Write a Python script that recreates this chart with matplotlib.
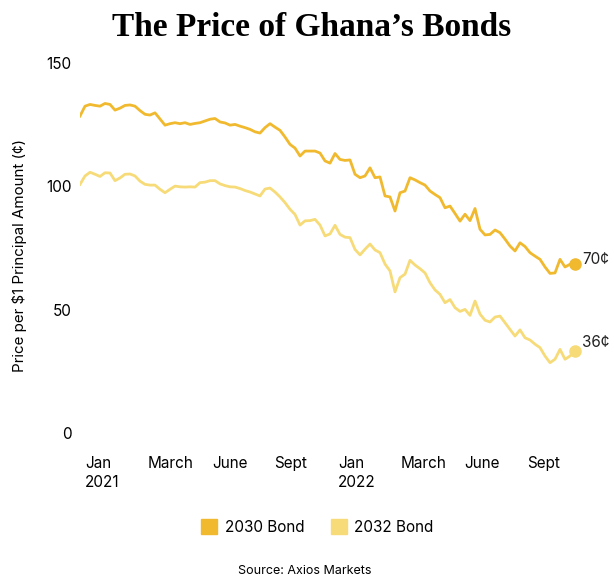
import matplotlib
matplotlib.use("Agg")
import matplotlib.pyplot as plt
from matplotlib.patches import Patch

plt.rcParams['font.family'] = ['Inter', 'DejaVu Sans']

# roughly weekly prices, Dec 2020 - Oct 2022 (cents per $1 principal)
bond_2030 = [128.5, 132.5, 133.2, 132.8, 132.5, 133.6, 133.2, 130.9, 131.7, 132.8,
             133.0, 132.5, 130.7, 129.2, 128.9, 129.8, 127.3, 124.8, 125.4, 125.8,
             125.4, 125.8, 125.1, 125.5, 125.8, 126.5, 127.2, 127.5, 126.1, 125.7,
             124.8, 125.1, 124.4, 123.8, 123.1, 122.1, 121.6, 123.8, 125.4, 124.0,
             122.7, 120.0, 117.0, 115.5, 112.3, 114.3, 114.3, 114.3, 113.5, 110.3,
             109.4, 113.3, 110.9, 110.5, 110.7, 104.9, 103.5, 104.2, 107.5, 103.5,
             103.8, 96.1, 95.7, 90.0, 97.4, 98.1, 103.5, 102.6, 101.5, 100.5,
             98.1, 96.7, 95.4, 91.3, 92.0, 89.0, 85.9, 88.7, 86.1, 91.0,
             82.6, 80.3, 80.5, 82.3, 81.2, 78.6, 75.8, 73.8, 77.1, 75.6,
             73.1, 71.7, 70.4, 67.3, 64.7, 64.9, 70.4, 67.3, 68.4, 68.6]
bond_2032 = [100.8, 104.2, 105.7, 104.9, 104.0, 105.5, 105.4, 102.3, 103.4, 104.9,
             105.0, 104.2, 102.1, 100.8, 100.5, 100.5, 98.8, 97.4, 98.8, 100.1,
             99.8, 99.7, 99.8, 99.7, 101.5, 101.7, 102.3, 102.3, 101.0, 100.3,
             99.8, 99.7, 99.1, 98.3, 97.7, 96.9, 96.1, 98.9, 99.3, 97.7,
             95.7, 93.4, 90.7, 88.6, 84.3, 86.0, 86.1, 86.6, 84.3, 79.9,
             80.7, 84.2, 80.5, 79.4, 79.2, 74.4, 72.2, 74.5, 76.6, 74.2,
             73.1, 68.5, 65.7, 57.2, 63.0, 64.4, 70.0, 68.1, 66.6, 64.9,
             60.9, 58.0, 56.2, 52.8, 54.1, 50.8, 49.3, 50.1, 47.7, 53.5,
             48.2, 45.7, 45.0, 47.0, 47.4, 44.7, 42.0, 39.3, 41.8, 38.6,
             37.7, 36.0, 34.6, 31.2, 28.5, 29.9, 33.9, 29.9, 31.2, 33.2]
series_names = ['2030 Bond', '2032 Bond']
end_labels = ['70¢', '36¢']
month_labels = ['Jan\n2021', 'March', 'June', 'Sept', 'Jan\n2022', 'March', 'June', 'Sept']
month_idx = [1, 13.6, 26.4, 38.8, 51.6, 64.2, 76.8, 89.4]
y_ticks = [0, 50, 100, 150]

colors = ['#F0B92E', '#F6DB78']

fig = plt.figure(figsize=(6.14, 5.77), dpi=100)
ax = fig.add_axes([0.1303, 0.2496, 0.8062, 0.6412])

x = list(range(len(bond_2030)))
for vals, c, lab, off in zip([bond_2030, bond_2032], colors, end_labels, [3, 6.5]):
    ax.plot(x, vals, color=c, lw=2.0, solid_joinstyle='round')
    ax.plot(x[-1], vals[-1], 'o', color=c, ms=8, clip_on=False)
    ax.annotate(lab, (x[-1], vals[-1]), xytext=(5, off), textcoords='offset points',
                va='center', ha='left', fontsize=11, color='#222222', annotation_clip=False)

ax.set_xlim(0, 99)
ax.set_ylim(0, 150)
ax.set_yticks(y_ticks)
ax.set_xticks(month_idx)
ax.set_xticklabels(month_labels, ha='left', fontsize=11, linespacing=1.35)
ax.tick_params(axis='y', length=0, pad=6, labelsize=11)
ax.tick_params(axis='x', length=0, pad=16.5)
for s in ax.spines.values():
    s.set_visible(False)

fig.text(0.032, 1 - 255 / 577, 'Price per $1 Principal Amount (¢)', rotation=90,
         ha='center', va='center', fontsize=10.9)

fig.text(0.507, 1 - 27 / 577, 'The Price of Ghana’s Bonds', ha='center', va='center',
         fontsize=24, fontweight='bold', family='Liberation Serif')

handles = [Patch(color=c) for c in colors]
fig.legend(handles, series_names, loc='center', bbox_to_anchor=(0.517, 1 - 527 / 577),
           ncol=2, frameon=False, fontsize=11, handlelength=1.05, handleheight=1.05,
           columnspacing=1.7, handletextpad=0.5)

fig.text(0.496, 1 - 571 / 577, 'Source: Axios Markets', ha='center', va='center', fontsize=9)

fig.savefig('out.png', dpi=100)
